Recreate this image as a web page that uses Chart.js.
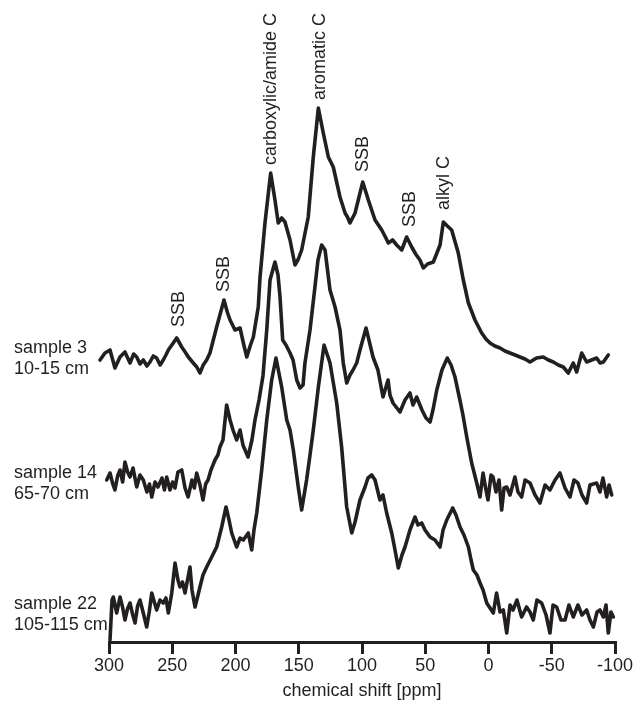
<!DOCTYPE html>
<html><head><meta charset="utf-8">
<script src="https://cdn.jsdelivr.net/npm/chart.js@4/dist/chart.umd.min.js"></script>
<style>html,body{margin:0;padding:0;background:#fff}</style>
</head><body>
<canvas id="c" width="635" height="706"></canvas>
<script>
// ---- data (chemical shift in ppm, stacked intensity in arbitrary units) ----
const ppm3 = [307.1,303.2,299.2,295.3,291.3,287.4,283.4,280.5,278.1,275.5,272.9,270.0,267.6,265.0,262.3,259.6,257.1,255.0,253.1,249.2,246.5,242.5,239.8,237.3,233.4,230.6,228.1,225.5,222.8,220.2,214.9,209.1,206.5,204.3,200.4,196.4,193.6,191.1,188.4,185.9,182.0,180.6,176.7,172.2,168.8,166.2,163.5,160.9,156.9,153.0,150.3,147.7,142.5,138.5,134.5,130.6,126.6,122.7,117.4,113.4,111.5,109.5,105.5,99.4,95.0,89.7,84.4,81.5,79.2,75.8,72.6,68.6,64.7,60.7,57.6,54.2,51.5,48.2,43.6,38.3,35.7,32.5,29.1,23.9,19.9,15.9,10.7,5.4,2.0,-1.2,-5.0,-9.1,-13.0,-17.0,-21.0,-24.9,-28.8,-32.8,-38.0,-43.3,-47.3,-51.2,-55.2,-59.1,-63.1,-67.0,-69.7,-73.7,-77.6,-81.5,-85.5,-88.2,-90.8,-94.7];
const int3 = [282,289,292,274,285,290,279,288,285,278,282,276,280,286,284,277,282,287,292,299,304,295,290,285,279,275,269,277,282,289,315,342,330,322,312,314,298,285,296,305,335,365,419,469,442,419,424,420,402,377,383,392,425,485,534,509,485,475,445,429,425,419,429,460,442,422,412,405,399,402,397,392,405,395,388,382,374,378,380,397,420,416,412,389,362,339,322,309,303,299,296,294,291,289,287,285,283,280,284,285,282,280,277,275,269,279,270,289,280,282,284,279,280,287];

const ppm14 = [301.8,299.2,297.0,295.3,293.2,291.3,289.2,287.4,285.3,283.4,281.0,278.1,275.5,272.9,270.0,268.0,266.2,263.6,261.3,258.1,256.2,254.4,251.8,249.7,247.8,245.5,242.5,239.9,237.5,234.4,232.5,230.7,228.1,225.7,223.6,221.7,219.4,216.2,213.9,212.3,209.9,207.0,204.3,202.0,199.1,196.4,194.1,190.1,187.0,184.6,181.4,178.3,175.3,172.7,168.8,166.4,164.8,162.7,160.1,156.9,154.5,151.6,149.0,146.6,145.1,141.1,137.2,134.8,131.9,129.2,125.3,121.3,117.4,114.8,112.1,109.5,107.1,104.2,101.6,96.8,91.3,87.4,83.4,79.4,77.9,75.5,70.0,66.0,62.1,59.7,56.8,52.6,49.4,46.2,43.9,40.9,36.8,32.6,29.6,26.5,22.6,20.2,17.2,13.3,9.3,6.7,4.3,2.0,0.4,-2.0,-3.6,-5.9,-8.3,-10.4,-12.3,-14.4,-17.0,-20.9,-23.3,-26.2,-28.9,-32.8,-36.8,-40.7,-44.7,-48.6,-52.6,-56.5,-60.5,-64.4,-67.6,-70.7,-73.9,-77.6,-80.2,-85.5,-88.1,-90.5,-93.4,-95.3,-97.4];
const int14 = [162,169,158,152,166,172,160,180,170,165,174,155,167,162,150,158,145,160,155,164,152,165,152,160,154,170,172,154,145,162,154,169,157,142,158,162,172,182,187,195,202,237,222,212,202,212,197,185,202,222,242,266,312,362,380,367,345,302,297,289,282,262,254,257,279,312,355,382,397,392,352,335,312,279,259,267,272,279,292,314,285,272,245,262,247,239,230,242,249,237,245,232,224,220,232,252,272,284,277,265,242,227,205,179,159,145,169,152,142,167,165,150,162,132,154,155,147,165,150,145,162,159,147,139,157,152,162,169,154,145,162,159,147,139,157,159,150,164,145,157,147];

const ppm22 = [299.2,297.6,296.6,293.9,291.3,289.3,287.4,285.4,283.4,281.4,279.4,277.4,275.5,273.1,270.2,268.2,266.2,264.2,262.3,259.7,257.1,255.0,253.1,250.4,247.8,245.5,243.9,241.9,239.9,236.0,234.4,232.0,230.0,228.1,225.7,222.8,218.8,214.9,210.9,207.5,205.1,203.0,199.1,196.4,193.8,189.9,187.2,185.4,183.2,179.3,175.3,171.4,168.0,163.5,159.5,156.9,154.3,150.4,147.7,143.8,141.1,138.5,134.5,130.0,125.3,120.0,116.1,112.1,108.1,105.5,101.6,97.6,95.3,92.3,89.7,85.8,83.4,80.5,76.5,73.9,71.3,68.4,66.0,62.1,58.1,55.7,52.8,50.2,46.2,42.3,38.3,35.9,33.0,28.3,25.7,22.5,19.4,15.9,13.8,12.0,9.1,6.7,4.3,1.4,-1.2,-3.8,-6.4,-9.1,-11.7,-14.4,-17.0,-19.4,-22.5,-26.2,-30.1,-32.8,-35.4,-38.3,-42.0,-45.5,-48.6,-51.0,-53.9,-57.3,-60.5,-63.6,-67.0,-70.7,-73.9,-77.6,-80.2,-82.9,-85.8,-88.1,-90.8,-92.9,-94.7,-96.8,-98.7];
const int22 = [2,42,45,29,45,35,22,33,39,28,19,36,42,30,15,30,49,40,32,42,39,44,29,49,79,62,55,60,49,75,52,35,45,55,67,75,85,95,115,135,122,109,95,104,102,109,92,112,129,172,222,262,284,255,222,212,192,155,132,162,187,212,255,297,279,239,195,135,109,120,142,155,164,167,162,142,147,129,109,92,74,87,95,112,125,117,119,112,105,102,95,112,122,134,127,115,107,95,82,72,67,59,52,39,34,29,49,30,32,9,37,32,42,25,35,30,22,42,39,27,9,37,35,22,22,37,25,37,27,32,22,15,30,32,25,37,9,30,25];

const seriesNames = ['sample 3', 'sample 14', 'sample 22'];
const sampleLine1 = ['sample 3', 'sample 14', 'sample 22'];
const sampleLine2 = ['10-15 cm', '65-70 cm', '105-115 cm'];
const sampleLabelY = [289, 164, 33];

const xTicks = [300, 250, 200, 150, 100, 50, 0, -50, -100];

const annLabels = ['SSB', 'SSB', 'carboxylic/amide C', 'aromatic C', 'SSB', 'SSB', 'alkyl C'];
const annPpm    = [245.9, 209.9, 171.9, 134.0, 100.4, 63.6, 34.4];
const annBase   = [315, 350, 477, 542, 470, 415, 432];

// ---- styling ----
const INK = '#231f20';
const FAM = '"Liberation Sans", Arial, Helvetica, sans-serif';
const FSIZE = 18;

function pts(xs, ys) { return xs.map((x, i) => ({ x: x, y: ys[i] })); }

const datasets = [[ppm3, int3], [ppm14, int14], [ppm22, int22]].map((s, i) => ({
  label: seriesNames[i],
  data: pts(s[0], s[1]),
  borderColor: INK,
  borderWidth: 3.6,
  pointRadius: 0,
  tension: 0,
  fill: false,
  clip: false,
  borderJoinStyle: 'round',
  borderCapStyle: 'round'
}));

const labelPlugin = {
  id: 'labels',
  afterDraw(chart) {
    const ctx = chart.ctx, xs = chart.scales.x, ys = chart.scales.y;
    ctx.save();
    ctx.fillStyle = INK;
    ctx.font = FSIZE + 'px ' + FAM;
    for (let i = 0; i < annLabels.length; i++) {
      const m = ctx.measureText(annLabels[i]);
      const off = (m.actualBoundingBoxAscent - m.actualBoundingBoxDescent) / 2;
      ctx.save();
      ctx.translate(xs.getPixelForValue(annPpm[i]), ys.getPixelForValue(annBase[i]));
      ctx.rotate(-Math.PI / 2);
      ctx.textAlign = 'left';
      ctx.textBaseline = 'alphabetic';
      ctx.fillText(annLabels[i], 0, off);
      ctx.restore();
    }
    ctx.textAlign = 'left';
    ctx.textBaseline = 'alphabetic';
    for (let i = 0; i < sampleLine1.length; i++) {
      const y = ys.getPixelForValue(sampleLabelY[i]);
      ctx.fillText(sampleLine1[i], 14, y);
      ctx.fillText(sampleLine2[i], 14, y + 21);
    }
    ctx.restore();
  }
};

new Chart(document.getElementById('c'), {
  type: 'line',
  data: { datasets: datasets },
  plugins: [labelPlugin],
  options: {
    responsive: false,
    animation: false,
    layout: { padding: { left: 109, right: 20, top: 0, bottom: 0 } },
    plugins: { legend: { display: false }, tooltip: { enabled: false } },
    scales: {
      x: {
        type: 'linear', reverse: true, min: -100, max: 300,
        afterBuildTicks: s => { s.ticks = xTicks.map(v => ({ value: v })); },
        afterFit: s => { s.height = 64; },
        border: { display: true, width: 3, color: INK },
        grid: { drawOnChartArea: false, drawTicks: true, tickLength: 12, lineWidth: 3, color: INK },
        ticks: { color: INK, font: { family: FAM, size: FSIZE }, padding: 1, maxRotation: 0, autoSkip: false },
        title: { display: true, text: 'chemical shift [ppm]', color: INK, font: { family: FAM, size: FSIZE }, padding: { top: 0, bottom: 4 } }
      },
      y: { display: false, min: 0, max: 642 }
    }
  }
});
</script>
</body></html>
